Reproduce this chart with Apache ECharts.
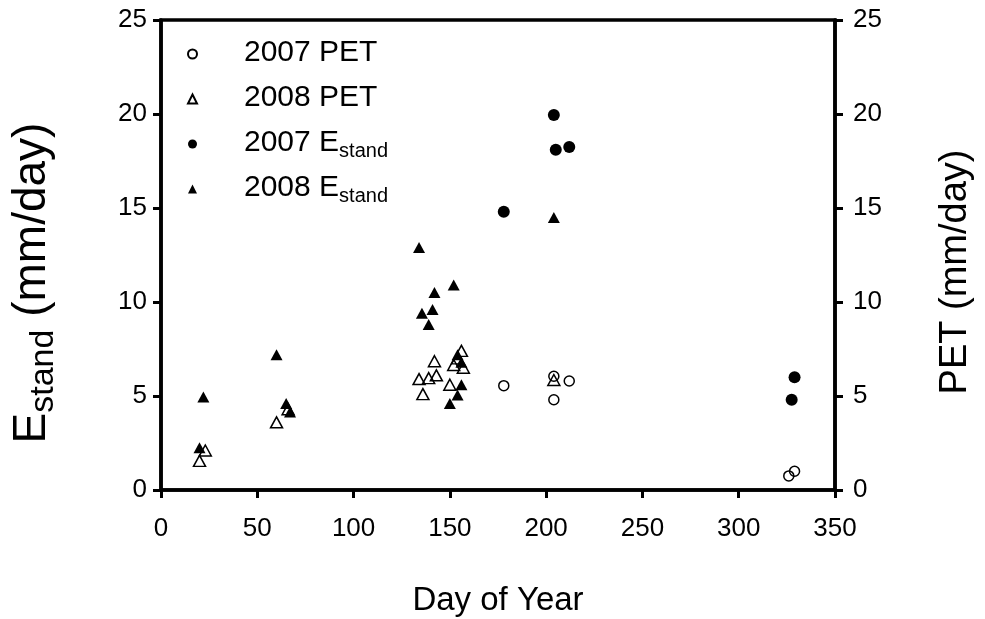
<!DOCTYPE html>
<html>
<head>
<meta charset="utf-8">
<script src="https://cdn.jsdelivr.net/npm/echarts@6/dist/echarts.min.js"></script>
<style>html,body{margin:0;padding:0;background:#fff}#c{width:985px;height:619px}</style>
</head>
<body>
<div id="c"></div>
<script>
// [day of year, value]
var pet2007 = [[178,5.55],[204,6.05],[204,4.8],[212,5.8],[326,0.75],[329,1.0]];
var pet2008 = [[20,1.55],[23,2.1],[60,3.6],[66,4.3],[134,5.9],[136,5.1],[139,5.95],[142,6.85],[143,6.1],[150,5.6],[152,6.65],[154,7.0],[156,7.4],[157,6.5],[204,5.85]];
var est2007 = [[178,14.8],[204,19.95],[205,18.1],[212,18.25],[327.5,4.8],[329,6.0]];
var est2008 = [[20,2.25],[22,4.95],[60,7.2],[65,4.6],[67,4.15],[134,12.9],[135.5,9.4],[139,8.8],[141,9.6],[142,10.5],[152,10.9],[150,4.6],[154,5.05],[156,5.6],[154,7.2],[156,6.8],[204,14.5]];
var xTicks = [0,50,100,150,200,250,300,350];
var yTicks = [0,5,10,15,20,25];

var FONT = 'Liberation Sans, Arial, sans-serif';
var chart = echarts.init(document.getElementById('c'), null, {renderer:'canvas'});
var axisCommon = {
  axisLine:{show:true,lineStyle:{color:'#000',width:3.5}},
  axisTick:{show:true,inside:false,length:8,lineStyle:{color:'#000',width:3}},
  splitLine:{show:false},
};
chart.setOption({
  animation:false,
  backgroundColor:'#fff',
  grid:{left:161,right:150,top:20,bottom:129,containLabel:false,outerBoundsMode:'none',
    show:true,borderColor:'#000',borderWidth:3.5,backgroundColor:'transparent'},
  legend:{
    orient:'vertical', left:187, top:38, padding:0, itemGap:12,
    itemWidth:9, itemHeight:9,
    data:['2007 PET','2008 PET','2007 Estand','2008 Estand'],
    formatter:function(n){
      if(n.indexOf('Estand')>=0){return '{a|'+n.replace('Estand','E')+'}{b|stand}';}
      return '{a|'+n+'}{b| }';
    },
    textStyle:{padding:[0,0,0,42],color:'#000',fontFamily:FONT,fontSize:30,
      rich:{a:{fontSize:30,lineHeight:32,verticalAlign:'top',fontFamily:FONT,color:'#000'},
            b:{fontSize:20,lineHeight:22,padding:[13,0,0,0],verticalAlign:'top',fontFamily:FONT,color:'#000'}}}
  },
  xAxis:Object.assign({
    type:'value', min:0, max:350, interval:50,
    name:'Day of Year', nameLocation:'middle', nameGap:94,
    nameTextStyle:{fontSize:33,fontFamily:FONT,color:'#000'},
    axisLabel:{margin:26,fontSize:26,fontFamily:FONT,color:'#000',
      formatter:function(v){return xTicks.indexOf(v)>=0?String(v):'';}}
  },axisCommon),
  yAxis:[
    Object.assign({
      type:'value', min:0, max:25, interval:5, position:'left',
      name:'{a|E}{b|stand}{a| (mm/day)}', nameLocation:'middle', nameGap:102, nameRotate:90,
      nameTextStyle:{padding:[0,56,0,0],rich:{
        a:{fontSize:46,lineHeight:50,verticalAlign:'top',fontFamily:FONT,color:'#000'},
        b:{fontSize:34,lineHeight:37,padding:[18,0,0,0],verticalAlign:'top',fontFamily:FONT,color:'#000'}}},
      axisLabel:{margin:14,fontSize:26,fontFamily:FONT,color:'#000',
        formatter:function(v){return yTicks.indexOf(v)>=0?String(v):'';}}
    },axisCommon),
    Object.assign({
      type:'value', min:0, max:25, interval:5, position:'right',
      name:'PET (mm/day)', nameLocation:'middle', nameGap:102, nameRotate:90,
      nameTextStyle:{fontSize:38,fontFamily:FONT,color:'#000',padding:[0,34,0,0]},
      axisLabel:{margin:18,fontSize:26,fontFamily:FONT,color:'#000',
        formatter:function(v){return yTicks.indexOf(v)>=0?String(v):'';}}
    },axisCommon)
  ],
  series:[
    {name:'2007 PET',type:'scatter',yAxisIndex:1,data:pet2007,symbol:'circle',symbolSize:10,
      itemStyle:{color:'rgba(255,255,255,0)',borderColor:'#000',borderWidth:1.5,opacity:1}},
    {name:'2008 PET',type:'scatter',yAxisIndex:1,data:pet2008,symbol:'triangle',symbolSize:[12,11],
      itemStyle:{color:'rgba(255,255,255,0)',borderColor:'#000',borderWidth:1.5,opacity:1}},
    {name:'2007 Estand',type:'scatter',yAxisIndex:0,data:est2007,symbol:'circle',symbolSize:12,
      itemStyle:{color:'#000',opacity:1}},
    {name:'2008 Estand',type:'scatter',yAxisIndex:0,data:est2008,symbol:'triangle',symbolSize:[12,11],
      itemStyle:{color:'#000',opacity:1}}
  ]
});
</script>
</body>
</html>
